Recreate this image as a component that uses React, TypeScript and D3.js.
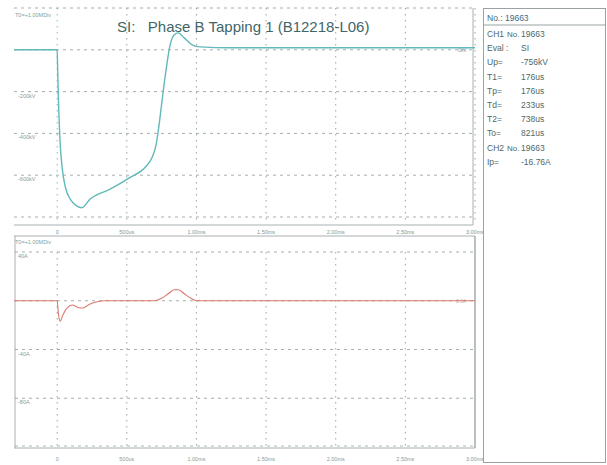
import React from "react";
import * as d3 from "d3";

// ---- data ----
const timeTicks = [0, 500, 1000, 1500, 2000, 2500, 3000];
const timeTickLabels = ["0", "500us", "1.00ms", "1.50ms", "2.00ms", "2.50ms", "3.00ms"];

const voltTicks = [200, 0, -200, -400, -600, -800];
const voltTickLabels = ["", "", "-200kV", "-400kV", "-600kV", ""];
const currTicks = [40, 0, -40, -80, -120];
const currTickLabels = ["40A", "", "-40A", "-80A", ""];

const ch1Time = [-310, 0, 4, 10, 20, 35, 60, 100, 140, 176, 237, 380, 524, 632, 682, 711, 732, 754, 782, 811, 840, 869, 912, 969, 1027, 1242, 3000];
const ch1Volt = [0, 0, -110, -260, -430, -560, -660, -720, -747, -756, -714, -667, -610, -562, -514, -452, -357, -238, -95, 24, 71, 81, 57, 24, 14, 10, 10];

const ch2Time = [-310, 0, 8, 22, 40, 70, 108, 150, 185, 230, 280, 350, 700, 750, 800, 840, 870, 910, 960, 1005, 3000];
const ch2Curr = [0, 0, -10, -16.76, -12, -6, -3.5, -5.5, -6, -3, -1, 0, 0, 2, 6, 9, 9, 6, 2, 0, 0];

const infoRows: [string, string, string][] = [
  ["CH1", "No.", "19663"],
  ["Eval :", "", "SI"],
  ["Up=", "", "-756kV"],
  ["T1=", "", "176us"],
  ["Tp=", "", "176us"],
  ["Td=", "", "233us"],
  ["T2=", "", "738us"],
  ["To=", "", "821us"],
  ["CH2", "No.", "19663"],
  ["Ip=", "", "-16.76A"],
];

const FONT = "'Liberation Sans', Arial, sans-serif";

export default function App() {
  const W = 607, H = 465;
  const x = d3.scaleLinear().domain([-310, 3000]).range([14, 475]);
  const yTop = d3.scaleLinear().domain([200, -800]).range([8, 217]);
  const yBot = d3.scaleLinear().domain([40, -120]).range([252, 447]);

  const lineTop = d3
    .line<number>()
    .x((_, i) => x(ch1Time[i]))
    .y((v) => yTop(v))
    .curve(d3.curveMonotoneX);
  const lineBot = d3
    .line<number>()
    .x((_, i) => x(ch2Time[i]))
    .y((v) => yBot(v))
    .curve(d3.curveMonotoneX);

  const gridCol = "#8e9c9c";
  const labelCol = "#8a9a98";

  return (
    <svg width={W} height={H} style={{ position: "absolute", left: 0, top: 0, background: "#fff" }}>
      <rect x={0} y={0} width={W} height={H} fill="#fff" />

      {/* ---------- top panel ---------- */}
      <g>
        {voltTicks.map((v) => (
          <line key={"th" + v} x1={14} x2={475} y1={yTop(v)} y2={yTop(v)} stroke={gridCol} strokeWidth={1} strokeDasharray="3,4" opacity={0.8} />
        ))}
        {timeTicks.map((t) => (
          <line key={"tv" + t} x1={x(t)} x2={x(t)} y1={8} y2={224} stroke={t === 0 ? "#7fb4b4" : gridCol} strokeWidth={1} strokeDasharray="1.5,4.5" opacity={0.9} />
        ))}
        <line x1={14} x2={473} y1={225} y2={225} stroke="#a8b0b0" strokeWidth={1} />
        <line x1={473} x2={473} y1={8} y2={225} stroke="#a8b0b0" strokeWidth={1} />
        {voltTicks.map((v, i) =>
          voltTickLabels[i] ? (
            <text key={"tl" + v} x={18} y={yTop(v) + 6} fontSize={5.5} fill={labelCol} fontFamily={FONT}>
              {voltTickLabels[i]}
            </text>
          ) : null
        )}
        <text x={15} y={17} fontSize={5.5} fill="#7aa4a2" fontFamily={FONT}>T0=+1.00MDiv</text>
        <text x={458} y={yTop(0) + 2} fontSize={5} fill={labelCol} fontFamily={FONT}>0kV</text>
        <path d={lineTop(ch1Volt) || ""} fill="none" stroke="#62b8bb" strokeWidth={1.4} />
        <text x={117} y={32} fontSize={15} fill="#3f6668" fontFamily={FONT}>
          SI:{"\u00a0\u00a0\u00a0"}Phase B Tapping 1 (B12218-L06)
        </text>
      </g>

      {/* ---------- time axis between panels ---------- */}
      {timeTicks.map((t, i) => (
        <text key={"ta" + t} x={x(t)} y={234} fontSize={5.5} fill="#7c9a92" fontFamily={FONT} textAnchor="middle">
          {timeTickLabels[i]}
        </text>
      ))}

      {/* ---------- bottom panel ---------- */}
      <g>
        <line x1={14} x2={475} y1={236} y2={236} stroke="#a8b0b0" strokeWidth={1} />
        <line x1={15} x2={15} y1={236} y2={448} stroke="#a8b0b0" strokeWidth={1} />
        <line x1={14} x2={475} y1={448} y2={448} stroke="#a8b0b0" strokeWidth={1} />
        <line x1={475} x2={475} y1={236} y2={448} stroke="#8c9494" strokeWidth={1.2} />
        {currTicks.slice(0, 4).map((v) => (
          <line key={"bh" + v} x1={15} x2={474} y1={yBot(v)} y2={yBot(v)} stroke={gridCol} strokeWidth={1} strokeDasharray="3,4" opacity={0.8} />
        ))}
        <line x1={15} x2={474} y1={yBot(-120) - 1} y2={yBot(-120) - 1} stroke={gridCol} strokeWidth={1} strokeDasharray="3,4" opacity={0.7} />
        {timeTicks.slice(0, 6).map((t) => (
          <line key={"bv" + t} x1={x(t)} x2={x(t)} y1={252} y2={447} stroke={gridCol} strokeWidth={1} strokeDasharray="1.5,4.5" opacity={0.9} />
        ))}
        {currTicks.map((v, i) =>
          currTickLabels[i] ? (
            <text key={"bl" + v} x={18} y={yBot(v) + 6} fontSize={5.5} fill={labelCol} fontFamily={FONT}>
              {currTickLabels[i]}
            </text>
          ) : null
        )}
        <text x={15} y={244} fontSize={5.5} fill="#7aa4a2" fontFamily={FONT}>T0=+1.00MDiv</text>
        <text x={456} y={yBot(0) + 2} fontSize={5} fill="#c8b0a8" fontFamily={FONT}>0.0A</text>
        <path d={lineBot(ch2Curr) || ""} fill="none" stroke="#d9786c" strokeWidth={1.1} />
        {timeTicks.map((t, i) => (
          <text key={"ba" + t} x={x(t)} y={461} fontSize={5.5} fill="#8a9a98" fontFamily={FONT} textAnchor="middle">
            {timeTickLabels[i]}
          </text>
        ))}
      </g>

      {/* ---------- info box ---------- */}
      <g fontFamily={FONT}>
        <rect x={483.5} y={8.5} width={122} height={454} fill="none" stroke="#9aa2a2" strokeWidth={1} />
        <line x1={483.5} x2={605.5} y1={25} y2={25} stroke="#9aa2a2" strokeWidth={1} />
        <text x={487} y={21} fontSize={8.5} fill="#3f6a7a">No.: 19663</text>
        {infoRows.map((r, i) => (
          <g key={"ir" + i}>
            <text x={487} y={37 + i * 14.2} fontSize={8.5} fill="#4e6866">{r[0]}</text>
            {r[1] ? <text x={507} y={37 + i * 14.2} fontSize={8} fill="#4e6866">{r[1]}</text> : null}
            <text x={521} y={37 + i * 14.2} fontSize={8.5} fill="#4e6866">{r[2]}</text>
          </g>
        ))}
      </g>
    </svg>
  );
}
